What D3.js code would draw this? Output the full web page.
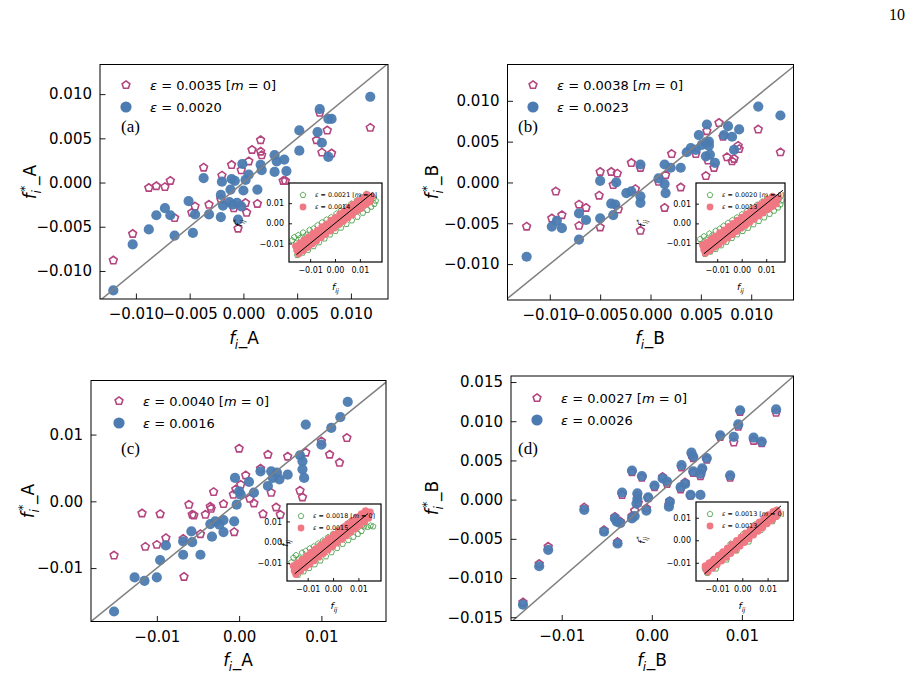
<!DOCTYPE html>
<html><head><meta charset="utf-8">
<script src="https://cdn.jsdelivr.net/npm/d3@7"></script>
<style>
body{margin:0;background:#fff}
svg{display:block}
text{font-family:"DejaVu Sans";white-space:pre}
</style>
</head><body>
<svg id="c" width="914" height="676"></svg>
<script>
// ---------------- DATA (point values in units of 1e-3) ----------------
const U = 1e-3;
const panelLetters = ["(a)", "(b)", "(c)", "(d)"];
const axisNames = ["A", "B", "A", "B"];
const epsM0 = ["0.0035", "0.0038", "0.0040", "0.0027"];
const epsFit = ["0.0020", "0.0023", "0.0016", "0.0026"];
const insetEpsM0 = ["0.0021", "0.0020", "0.0018", "0.0013"];
const insetEpsFit = ["0.0014", "0.0013", "0.0015", "0.0013"];
const ticksFine = [-0.010, -0.005, 0, 0.005, 0.010];
const ticksCoarse = [-0.01, 0, 0.01];
const ticksDy = [-0.015, -0.010, -0.005, 0, 0.005, 0.010, 0.015];
const insetTicks = [-0.01, 0, 0.01];

const aFit = [[-12.1,-12.2],[-10.3,-7.0],[-8.8,-5.3],[-8.1,-3.7],[-7.3,-2.9],[-6.8,-3.7],[-6.4,-6.0],[-5.1,-2.1],[-4.7,-5.7],[-4.5,-3.6],[-3.7,0.5],[-3.2,-3.6],[-2.1,-1.4],[-2.0,0.1],[-2.1,-3.9],[-1.9,-2.6],[-1.2,-0.8],[-1.1,0.4],[-1.0,-2.5],[-0.8,0.2],[-0.6,-2.3],[-0.5,-4.2],[-0.2,-2.7],[0.0,-0.9],[-0.1,2.1],[0.2,0.3],[0.5,0.9],[1.3,-0.8],[1.6,2.0],[1.7,1.4],[2.9,3.1],[3.1,2.4],[3.8,2.6],[4.0,1.3],[2.9,1.2],[5.2,5.9],[5.2,3.6],[6.9,5.7],[7.1,8.3],[7.3,4.5],[7.9,7.2],[8.2,7.2],[7.9,2.9],[11.8,9.7],[-1.3,-2.2]];
const aM0 = [[-12.1,-8.8],[-10.3,-5.8],[-8.8,-0.6],[-8.1,-0.4],[-7.3,-0.5],[-6.8,0.2],[-6.4,-4.0],[-4.8,-3.4],[-4.5,-2.7],[-3.7,1.7],[-3.2,-2.5],[-2.0,0.8],[-2.1,-1.9],[-1.1,2.0],[-0.9,-2.9],[-0.5,-5.2],[0.2,-2.3],[0.3,-3.4],[0.5,2.4],[0.8,3.7],[1.6,4.8],[1.6,3.5],[1.7,3.1],[1.3,-2.4],[3.7,0.2],[3.9,0.2],[6.8,4.8],[7.1,7.9],[7.3,3.4],[7.8,5.9],[8.2,3.3],[11.8,6.2],[-0.2,1.4]];

const bFit = [[-12.3,-9.1],[-9.8,-5.4],[-9.3,-4.7],[-8.8,-5.6],[-7.1,-7.0],[-7.1,-3.8],[-6.4,-4.6],[-5.0,0.2],[-5.0,-4.4],[-3.9,-2.6],[-3.7,-4.0],[-3.5,-2.7],[-3.4,0.0],[-2.4,-1.3],[-1.9,-1.1],[-1.0,-1.7],[-1.0,-2.5],[-1.0,2.2],[0.8,0.5],[1.4,-0.2],[1.5,-1.3],[1.4,2.2],[2.0,1.8],[3.0,1.8],[3.6,3.7],[4.0,4.2],[4.5,4.0],[4.8,5.8],[5.1,4.6],[5.5,4.9],[5.6,7.1],[5.8,5.0],[5.5,3.2],[5.8,4.5],[5.9,3.4],[6.4,2.4],[7.3,5.8],[7.7,6.9],[8.1,5.6],[8.3,4.0],[8.8,6.5],[10.7,9.3],[12.9,8.2]];
const bM0 = [[-12.3,-5.4],[-9.8,-4.4],[-9.4,-1.1],[-8.8,-4.0],[-7.1,-2.7],[-7.1,-5.3],[-6.4,-3.1],[-5.1,-1.6],[-5.0,1.3],[-5.0,-5.5],[-3.9,1.3],[-3.7,-0.3],[-3.3,1.1],[-3.2,-3.3],[-1.9,2.4],[-1.5,-0.8],[-1.0,1.8],[-1.0,-5.9],[0.8,0.1],[1.4,-3.1],[1.5,0.9],[2.1,3.5],[3.0,-0.6],[4.5,3.5],[5.6,6.3],[5.5,0.8],[5.7,2.7],[6.3,1.8],[6.8,7.3],[7.2,5.6],[7.6,3.1],[8.1,2.6],[8.3,2.9],[8.7,4.5],[8.8,4.1],[10.7,6.5],[12.9,3.7]];

const cFit = [[-15.2,-16.5],[-12.7,-11.4],[-11.5,-11.9],[-10.0,-11.4],[-9.6,-8.8],[-8.9,-6.6],[-6.8,-6.0],[-6.8,-8.0],[-5.8,-4.5],[-5.7,-6.1],[-4.7,-8.0],[-3.5,-3.4],[-3.3,-5.3],[-2.9,-3.0],[-1.9,-2.8],[-1.9,-4.6],[-0.6,-3.0],[-0.3,-0.5],[-0.5,3.5],[0.0,1.5],[0.2,1.0],[1.2,2.9],[1.8,1.3],[2.6,4.5],[3.5,2.3],[3.9,4.5],[4.1,3.5],[4.6,4.3],[5.9,4.0],[4.9,3.3],[7.4,6.9],[7.7,6.0],[7.7,4.8],[7.9,3.5],[8.1,11.5],[10.0,8.5],[11.2,11.0],[12.3,12.6],[13.2,14.9],[-2.4,-3.5]];
const cM0 = [[-15.2,-8.1],[-11.8,-1.8],[-11.4,-6.8],[-10.0,-6.5],[-9.6,-1.9],[-8.9,-5.5],[-6.8,-5.6],[-6.7,-11.3],[-6.1,-0.5],[-5.7,-2.0],[-5.5,-2.1],[-4.7,-4.9],[-4.1,-2.0],[-3.5,-0.8],[-3.4,-1.1],[-3.1,1.4],[-1.9,-0.4],[-0.6,-4.6],[-0.7,1.0],[0.0,7.9],[0.2,2.5],[0.8,3.9],[1.3,0.4],[1.8,-0.3],[2.6,4.9],[2.9,-1.9],[3.5,7.0],[3.9,1.3],[4.5,-0.9],[5.0,-2.0],[5.9,6.7],[7.4,1.6],[7.7,0.6],[8.1,7.3],[10.0,9.0],[11.0,7.0],[12.2,5.8],[13.1,9.5],[-0.4,1.8]];

const dFit = [[-14.3,-13.4],[-12.5,-8.5],[-11.5,-6.4],[-7.5,-1.3],[-5.3,-4.1],[-4.1,-2.4],[-3.9,-2.8],[-3.5,-3.0],[-3.8,-5.6],[-3.3,0.9],[-2.2,3.7],[-2.2,-2.4],[-1.9,-2.1],[-1.6,0.8],[-1.6,0.1],[-1.7,-0.5],[-1.1,3.0],[-0.6,-1.4],[-0.4,0.3],[0.3,1.8],[1.2,2.7],[1.7,2.3],[2.0,-0.3],[1.9,-0.9],[3.3,4.4],[3.7,2.0],[3.2,1.6],[4.3,0.6],[4.4,6.0],[4.6,5.5],[4.6,3.6],[5.6,4.0],[5.4,3.3],[5.4,0.6],[6.1,5.3],[7.6,8.2],[8.7,3.1],[9.1,8.0],[9.6,9.6],[9.8,11.4],[11.3,7.9],[12.2,7.4],[13.8,11.5]];
const dM0 = [[-14.3,-13.1],[-12.5,-8.2],[-11.5,-6.0],[-7.5,-1.0],[-5.3,-3.9],[-4.1,-2.2],[-3.9,-2.6],[-3.5,-2.8],[-3.8,-5.4],[-3.3,0.6],[-2.2,3.5],[-2.2,-2.1],[-1.9,-1.4],[-1.6,0.5],[-1.5,-0.4],[-1.1,2.8],[-0.6,-1.1],[-0.4,0.2],[0.3,1.6],[1.2,2.9],[1.7,2.0],[2.0,-0.2],[1.9,-0.7],[3.3,4.1],[3.7,2.2],[3.2,1.3],[4.3,0.5],[4.4,5.7],[4.6,5.3],[4.6,3.4],[5.6,3.8],[5.4,3.0],[6.1,5.1],[7.6,8.0],[8.7,2.8],[9.1,7.3],[9.6,9.3],[9.8,11.2],[11.3,7.5],[12.2,7.2],[13.8,11.1]];

// inset data f*_ij vs f_ij (units of 1e-3)
const aInsetFit = [[-14.6,-15.1],[-12.8,-13.5],[-11.1,-11.9],[-9.2,-10.2],[-7.5,-8.7],[-5.6,-7.0],[-3.9,-5.4],[-2.0,-3.7],[-0.3,-2.2],[1.6,-0.5],[3.3,1.0],[5.2,2.8],[6.9,4.3],[8.8,6.1],[10.5,7.5],[12.4,9.4],[14.1,10.8],
  [-15.3,-13.4],[-13.5,-12.1],[-11.8,-10.4],[-10.0,-9.0],[-8.3,-7.1],[-6.4,-5.8],[-4.6,-4.0],[-2.9,-2.5],[-1.0,-0.8],[0.8,0.8],[2.6,2.3],[4.3,4.0],[6.2,5.5],[8.0,7.2],[9.7,8.7],[11.6,10.5],[13.3,11.9],[14.8,13.3],
  [-15.8,-11.3],[-14.1,-9.9],[-12.4,-8.2],[-10.6,-6.9],[-8.8,-5.0],[-7.0,-3.6],[-5.2,-1.8],[-3.4,-0.4],[-1.6,1.4],[0.2,2.8],[2.0,4.6],[3.8,6.0],[5.6,7.9],[7.4,9.3],[9.2,11.1],[11.0,12.4],[12.8,14.2]];
const aInsetM0 = [[-17.2,-8.5],[-16.4,-6.9],[-15.6,-9.8],[-14.8,-5.9],[-13.9,-7.2],[-12.8,-4.6],[-11.5,-5.8],[-10.2,-3.3],[-8.6,-2.6],[-7.0,-1.0],[-5.2,0.4],[-3.4,1.8],[-1.5,3.0],[0.6,4.8],[2.4,6.3],[4.5,8.1],[6.6,9.7],[8.8,11.4],[10.8,13.0],[12.6,14.6],
  [-15.2,-15.8],[-13.0,-14.6],[-10.8,-13.2],[-8.6,-11.4],[-6.4,-9.5],[-4.2,-7.6],[-2.0,-5.6],[0.2,-3.8],[2.4,-2.2],[4.6,-0.4],[6.8,1.4],[9.0,3.2],[11.2,5.2],[13.0,6.6],[14.6,8.2],[15.8,9.6],[16.4,11.2],[15.6,12.6]];
const bInsetFit = [[-14.8,-15.0],[-13.0,-13.7],[-11.1,-12.0],[-9.3,-10.6],[-7.5,-8.8],[-5.7,-7.3],[-3.9,-5.6],[-2.1,-4.0],[-0.3,-2.4],[1.5,-0.9],[3.3,0.7],[5.1,2.2],[6.9,3.9],[8.7,5.4],[10.5,7.0],[12.3,8.6],[14.0,10.0],
  [-15.4,-13.2],[-13.7,-11.9],[-11.9,-10.3],[-10.1,-8.8],[-8.3,-7.1],[-6.5,-5.6],[-4.7,-3.9],[-2.9,-2.4],[-1.1,-0.8],[0.7,0.8],[2.5,2.3],[4.3,3.9],[6.1,5.4],[7.9,7.0],[9.7,8.5],[11.5,10.1],[13.3,11.6],[14.9,12.9],
  [-15.9,-11.0],[-14.3,-9.8],[-12.5,-8.1],[-10.7,-6.6],[-8.9,-4.9],[-7.1,-3.4],[-5.3,-1.7],[-3.5,-0.2],[-1.7,1.5],[0.1,3.0],[1.9,4.6],[3.7,6.1],[5.5,7.7],[7.3,9.2],[9.1,10.8],[10.9,12.2],[12.7,13.6]];
const bInsetM0 = [[-17.0,-8.0],[-16.2,-10.4],[-15.4,-6.6],[-14.4,-8.2],[-13.2,-5.2],[-11.9,-6.0],[-10.6,-3.8],[-9.0,-2.8],[-7.4,-1.3],[-5.6,0.2],[-3.8,1.6],[-1.9,3.0],[0.1,4.6],[2.1,6.2],[4.2,7.8],[6.3,9.4],[8.4,11.0],[10.4,12.6],[12.4,13.9],
  [-15.0,-15.6],[-12.8,-14.4],[-10.6,-13.0],[-8.4,-11.2],[-6.2,-9.4],[-4.0,-7.5],[-1.8,-5.6],[0.4,-3.9],[2.6,-2.3],[4.8,-0.5],[7.0,1.2],[9.2,3.0],[11.4,4.8],[13.2,6.4],[14.8,8.0],[15.8,9.6],[16.2,11.6],[15.2,12.4]];
const cInsetFit = [[-14.6,-15.3],[-12.8,-13.7],[-11.0,-12.0],[-9.2,-10.4],[-7.4,-8.7],[-5.6,-7.0],[-3.8,-5.3],[-2.0,-3.6],[-0.2,-1.9],[1.6,-0.2],[3.4,1.5],[5.2,3.2],[7.0,4.9],[8.8,6.6],[10.6,8.3],[12.4,10.0],[14.0,11.6],
  [-15.2,-13.6],[-13.5,-12.0],[-11.7,-10.3],[-9.9,-8.6],[-8.1,-6.9],[-6.3,-5.2],[-4.5,-3.5],[-2.7,-1.8],[-0.9,-0.1],[0.9,1.6],[2.7,3.3],[4.5,5.0],[6.3,6.7],[8.1,8.4],[9.9,10.1],[11.7,11.8],[13.5,13.5],[14.6,14.4],
  [-15.6,-11.4],[-14.0,-10.0],[-12.2,-8.3],[-10.4,-6.6],[-8.6,-4.9],[-6.8,-3.2],[-5.0,-1.5],[-3.2,0.2],[-1.4,1.9],[0.4,3.6],[2.2,5.3],[4.0,7.0],[5.8,8.7],[7.6,10.4],[9.4,12.0],[11.2,13.6],[12.8,15.0]];
const cInsetM0 = [[-16.4,-9.6],[-15.6,-7.4],[-14.6,-6.2],[-13.4,-7.8],[-12.2,-5.0],[-10.8,-4.2],[-9.2,-3.0],[-7.6,-2.0],[-5.8,-0.6],[-4.0,0.8],[-2.0,2.4],[0.0,4.0],[2.2,5.8],[4.2,7.6],[6.4,9.6],
  [-13.8,-15.6],[-11.6,-14.0],[-9.4,-12.4],[-7.2,-10.6],[-5.0,-8.8],[-2.8,-6.8],[-0.6,-4.8],[1.6,-2.8],[3.8,-0.8],[6.0,1.0],[8.0,2.6],[9.8,4.0],[11.2,5.4],[12.2,7.6],[13.6,7.4],[14.8,8.0],[15.8,7.6],[11.4,8.2]];
const dInsetFit = [[-13.6,-14.0],[-11.8,-12.4],[-10.0,-10.8],[-8.2,-9.1],[-6.4,-7.5],[-4.6,-5.8],[-2.8,-4.2],[-1.0,-2.5],[0.8,-0.9],[2.6,0.8],[4.4,2.4],[6.2,4.1],[8.0,5.7],[9.8,7.4],[11.6,9.0],[13.4,10.6],
  [-14.3,-13.0],[-12.6,-11.5],[-10.8,-9.9],[-9.0,-8.2],[-7.2,-6.6],[-5.4,-4.9],[-3.6,-3.3],[-1.8,-1.6],[0.0,0.0],[1.8,1.6],[3.6,3.3],[5.4,4.9],[7.2,6.6],[9.0,8.2],[10.8,9.9],[12.6,11.5],[14.0,12.6],
  [-14.6,-11.4],[-13.0,-10.1],[-11.2,-8.5],[-9.4,-6.8],[-7.6,-5.2],[-5.8,-3.5],[-4.0,-1.9],[-2.2,-0.2],[-0.4,1.4],[1.4,3.1],[3.2,4.7],[5.0,6.4],[6.8,8.0],[8.6,9.7],[10.4,11.3],[12.2,12.7],[13.6,13.4]];
const dInsetM0 = [[-14.8,-12.6],[-13.8,-14.6],[-12.6,-9.8],[-10.4,-12.6],[-8.8,-6.2],[-6.2,-8.6],[-4.6,-1.6],[-2.2,-4.6],[0.4,2.8],[2.6,-0.6],[5.0,7.0],[7.4,4.6],[9.6,11.0],[12.0,8.4],[14.4,11.4],[13.6,13.4]];
// extent of the inset y = x reference line (f_ij range)
const insetLineRange = [[-0.0155, 0.0150], [-0.0154, 0.0168], [-0.0151, 0.0138], [-0.0150, 0.0153]];

// ---------------- LAYOUT ----------------
const MAG = "#b4457f", BLUE = "#4b7bb1", GREEN = "#3a9a3a", PINK = "#f07883";
const panels = [
  {box:[100,64.5,388,299], xd:[-0.01334,0.01345], yd:[-0.01317,0.01335], xt:ticksFine, yt:ticksFine, xf:".3f", yf:".3f",
   m0:aM0, fit:aFit, ylab:[36,182], xlab:[244,344], leg:[126,85], let:[121,132],
   inset:{box:[289,183,382,262], xd:[-0.0185,0.0189], yd:[-0.0192,0.0200], m0:aInsetM0, fit:aInsetFit, ylab:[242,223]}},
  {box:[507.5,64.5,793.5,300], xd:[-0.0142,0.0142], yd:[-0.0144,0.01445], xt:ticksFine, yt:ticksFine, xf:".3f", yf:".3f",
   m0:bM0, fit:bFit, ylab:[438,182], xlab:[650,344], leg:[533,85], let:[518,132],
   inset:{box:[696,183,785,262], xd:[-0.01865,0.01767], yd:[-0.0196,0.0205], m0:bInsetM0, fit:bInsetFit, ylab:[645,223]}},
  {box:[91,380.5,386,621.5], xd:[-0.0180,0.01785], yd:[-0.0180,0.0181], xt:ticksCoarse, yt:ticksCoarse, xf:".2f", yf:".2f",
   m0:cM0, fit:cFit, ylab:[34,501], xlab:[238,666], leg:[119,401], let:[121,454],
   inset:{box:[287,504,381,581], xd:[-0.01815,0.0189], yd:[-0.01856,0.01837], m0:cInsetM0, fit:cInsetFit, ylab:[288,543]}},
  {box:[511,376,793.5,620.5], xd:[-0.01563,0.01573], yd:[-0.01542,0.01577], xt:ticksCoarse, yt:ticksDy, xf:".2f", yf:".3f",
   m0:dM0, fit:dFit, ylab:[438,498], xlab:[652,666], leg:[537,398], let:[518,454],
   inset:{box:[696,502,788,581], xd:[-0.0183,0.01806], yd:[-0.0181,0.0170], m0:dInsetM0, fit:dInsetFit, ylab:[645,540]}}
];

const svg = d3.select("#c");
const defs = svg.append("defs");

function pentagon(r) {
  const p = d3.path();
  for (let k = 0; k < 5; k++) {
    const a = -Math.PI / 2 + k * 2 * Math.PI / 5;
    const px = r * Math.cos(a), py = r * Math.sin(a);
    if (k) p.lineTo(px, py); else p.moveTo(px, py);
  }
  p.closePath();
  return p.toString();
}

// f^{sup}_{sub}suffix label, centered at (cx,cy), baseline at cy
function fLabel(parent, cx, cy, rot, fs, sup, sub, suffix) {
  const g = parent.append("g").attr("transform", `translate(${cx},${cy}) rotate(${rot})`);
  const inner = g.append("g");
  const t1 = inner.append("text").attr("font-size", fs).attr("font-style", "italic").text("f");
  const wf = t1.node().getComputedTextLength();
  let w2 = 0;
  if (sup) {
    const ts = inner.append("text").attr("x", wf + 0.1 * fs).attr("y", -0.42 * fs).attr("font-size", 0.7 * fs).text(sup);
    w2 = Math.max(w2, 0.1 * fs + ts.node().getComputedTextLength());
  }
  if (sub) {
    const tb = inner.append("text").attr("x", wf - 0.02 * fs).attr("y", 0.27 * fs).attr("font-size", 0.7 * fs).attr("font-style", "italic").text(sub);
    w2 = Math.max(w2, -0.02 * fs + tb.node().getComputedTextLength());
  }
  let total = wf + w2;
  if (suffix) {
    const tx = inner.append("text").attr("x", total + 0.03 * fs).attr("font-size", fs).text(suffix);
    total += 0.03 * fs + tx.node().getComputedTextLength();
  }
  inner.attr("transform", `translate(${-total / 2},0)`);
  return g;
}

function epsText(t, val, m0) {
  t.append("tspan").attr("font-style", "italic").text("ε");
  t.append("tspan").text(" = " + val + (m0 ? " [" : ""));
  if (m0) {
    t.append("tspan").attr("font-style", "italic").text("m");
    t.append("tspan").text(" = 0]");
  }
}

function styleAxis(g, fs) {
  g.select(".domain").remove();
  g.attr("font-family", null).attr("font-size", null);
  g.selectAll("text").attr("font-size", fs).attr("fill", "#000");
  g.selectAll("line").attr("stroke", "#000").attr("stroke-width", 0.9);
}

panels.forEach((P, i) => {
  const [L, T, R, B] = P.box;
  const x = d3.scaleLinear().domain(P.xd).range([L, R]);
  const y = d3.scaleLinear().domain(P.yd).range([B, T]);
  const g = svg.append("g");
  defs.append("clipPath").attr("id", "clip" + i).append("rect")
    .attr("x", L).attr("y", T).attr("width", R - L).attr("height", B - T);
  const plot = g.append("g").attr("clip-path", `url(#clip${i})`);

  plot.selectAll(null).data(P.m0).join("path")
    .attr("d", pentagon(4.1))
    .attr("transform", d => `translate(${x(d[0] * U)},${y(d[1] * U)})`)
    .attr("fill", "none").attr("stroke", MAG).attr("stroke-width", 1.6);
  plot.selectAll(null).data(P.fit).join("circle")
    .attr("cx", d => x(d[0] * U)).attr("cy", d => y(d[1] * U)).attr("r", 5.1)
    .attr("fill", BLUE).attr("fill-opacity", 0.95);
  const lo = Math.min(P.xd[0], P.yd[0]), hi = Math.max(P.xd[1], P.yd[1]);
  plot.append("line").attr("x1", x(lo)).attr("y1", y(lo)).attr("x2", x(hi)).attr("y2", y(hi))
    .attr("stroke", "#808080").attr("stroke-width", 1.5);

  // axes
  const ax = g.append("g").attr("transform", `translate(0,${B})`)
    .call(d3.axisBottom(x).tickValues(P.xt).tickSize(-5.5).tickPadding(9.5).tickFormat(d3.format(P.xf)));
  styleAxis(ax, 15);
  const ay = g.append("g").attr("transform", `translate(${L},0)`)
    .call(d3.axisLeft(y).tickValues(P.yt).tickSize(-5.5).tickPadding(8).tickFormat(d3.format(P.yf)));
  styleAxis(ay, 15);
  g.append("rect").attr("x", L).attr("y", T).attr("width", R - L).attr("height", B - T)
    .attr("fill", "none").attr("stroke", "#000").attr("stroke-width", 1);

  // labels
  fLabel(g, P.xlab[0], P.xlab[1], 0, 17, null, "i", "_" + axisNames[i]);
  fLabel(g, P.ylab[0], P.ylab[1], -90, 17, "*", "i", "_" + axisNames[i]);

  // legend
  const [lx, ly] = P.leg;
  g.append("path").attr("d", pentagon(4.1)).attr("transform", `translate(${lx},${ly})`)
    .attr("fill", "none").attr("stroke", MAG).attr("stroke-width", 1.6);
  g.append("circle").attr("cx", lx).attr("cy", ly + 22).attr("r", 5.6).attr("fill", BLUE);
  epsText(g.append("text").attr("x", lx + 24).attr("y", ly + 4.7).attr("font-size", 13), epsM0[i], true);
  epsText(g.append("text").attr("x", lx + 24).attr("y", ly + 26.7).attr("font-size", 13), epsFit[i], false);

  g.append("text").attr("x", P.let[0]).attr("y", P.let[1]).attr("font-size", 17)
    .style("font-family", "'Liberation Serif', serif").text(panelLetters[i]);

  // inset
  const I = P.inset;
  const [iL, iT, iR, iB] = I.box;
  const ix = d3.scaleLinear().domain(I.xd).range([iL, iR]);
  const iy = d3.scaleLinear().domain(I.yd).range([iB, iT]);
  const ig = svg.append("g");
  ig.append("rect").attr("x", iL).attr("y", iT).attr("width", iR - iL).attr("height", iB - iT).attr("fill", "#fff");
  defs.append("clipPath").attr("id", "iclip" + i).append("rect")
    .attr("x", iL).attr("y", iT).attr("width", iR - iL).attr("height", iB - iT);
  const ip = ig.append("g").attr("clip-path", `url(#iclip${i})`);
  ip.selectAll(null).data(I.m0).join("path")
    .attr("d", pentagon(3))
    .attr("transform", d => `translate(${ix(d[0] * U)},${iy(d[1] * U)})`)
    .attr("fill", "none").attr("stroke", GREEN).attr("stroke-width", 0.8);
  ip.selectAll(null).data(I.fit).join("circle")
    .attr("cx", d => ix(d[0] * U)).attr("cy", d => iy(d[1] * U)).attr("r", 3.7)
    .attr("fill", PINK);
  // inset legend
  ig.append("path").attr("d", pentagon(3)).attr("transform", `translate(${iL + 14},${iT + 12})`)
    .attr("fill", "none").attr("stroke", GREEN).attr("stroke-width", 0.8);
  ig.append("circle").attr("cx", iL + 14).attr("cy", iT + 24).attr("r", 3.4).attr("fill", PINK);
  epsText(ig.append("text").attr("x", iL + 26).attr("y", iT + 14.3).attr("font-size", 6.4), insetEpsM0[i], true);
  epsText(ig.append("text").attr("x", iL + 26).attr("y", iT + 26.3).attr("font-size", 6.4), insetEpsFit[i], false);
  const lr = insetLineRange[i];
  ip.append("line").attr("x1", ix(lr[0])).attr("y1", iy(lr[0])).attr("x2", ix(lr[1])).attr("y2", iy(lr[1]))
    .attr("stroke", "#000").attr("stroke-width", 1);

  const iax = ig.append("g").attr("transform", `translate(0,${iB})`)
    .call(d3.axisBottom(ix).tickValues(insetTicks).tickSize(-3).tickPadding(5.5).tickFormat(d3.format(".2f")));
  styleAxis(iax, 8);
  const iay = ig.append("g").attr("transform", `translate(${iL},0)`)
    .call(d3.axisLeft(iy).tickValues(insetTicks).tickSize(-3).tickPadding(5).tickFormat(d3.format(".2f")));
  styleAxis(iay, 8);
  ig.append("rect").attr("x", iL).attr("y", iT).attr("width", iR - iL).attr("height", iB - iT)
    .attr("fill", "none").attr("stroke", "#000").attr("stroke-width", 1.2);
  fLabel(ig, (iL + iR) / 2, iB + 28, 0, 9.5, null, "ij", null);
  fLabel(ig, I.ylab[0], I.ylab[1], -90, 9.5, "*", "ij", null);
});

svg.append("text").attr("x", 905).attr("y", 20).attr("text-anchor", "end").attr("font-size", 16)
  .style("font-family", "'Liberation Serif', serif").text("10");
</script>
</body></html>
